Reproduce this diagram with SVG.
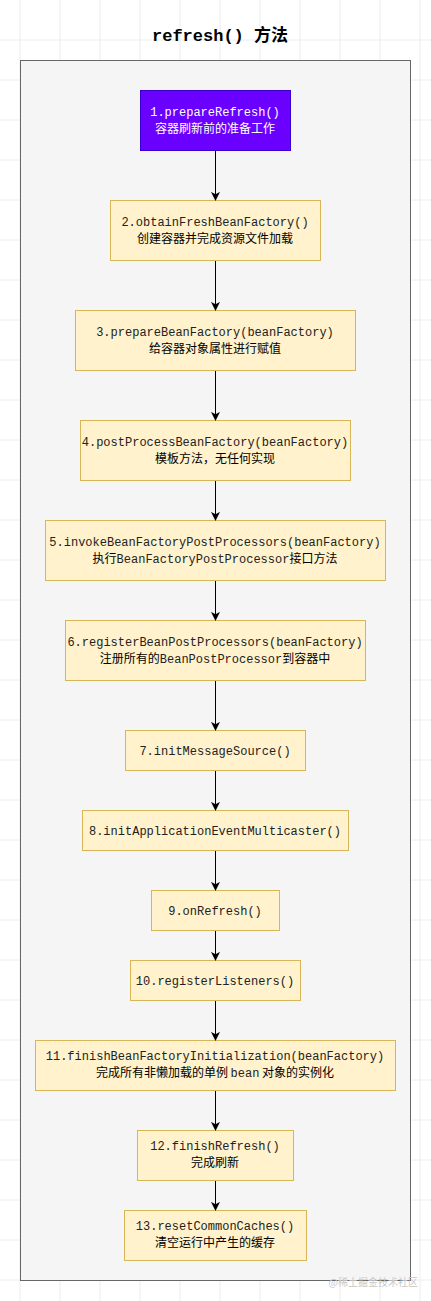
<svg xmlns="http://www.w3.org/2000/svg" width="431" height="1301" viewBox="0 0 431 1301">
<defs>
<style>
.grid line{stroke:#ececec;stroke-width:1}
.box{fill:#fff2cc;stroke:#d6b656;stroke-width:1}
.code{font-family:"Liberation Mono","DejaVu Sans Mono",monospace;font-size:12px;fill:#222}
.zh{font-family:"Noto Sans CJK SC","Liberation Sans",sans-serif;font-size:12px;fill:#000}
.mix{font-family:"Liberation Mono","Noto Sans CJK SC",monospace;font-size:12px;fill:#000}
.conn line{stroke:#000;stroke-width:1;fill:none}
</style>
<marker id="arr" viewBox="0 0 10 10" refX="9" refY="5" markerWidth="9" markerHeight="9" markerUnits="userSpaceOnUse" orient="auto">
<path d="M0,0 L10,5 L0,10 L2.5,5 Z" fill="#000"/>
</marker>
</defs>
<rect x="0" y="0" width="431" height="1301" fill="#ffffff"/>
<g class="grid">
<line x1="20" y1="0" x2="20" y2="1301"/><line x1="60" y1="0" x2="60" y2="1301"/><line x1="100" y1="0" x2="100" y2="1301"/><line x1="140" y1="0" x2="140" y2="1301"/><line x1="180" y1="0" x2="180" y2="1301"/><line x1="220" y1="0" x2="220" y2="1301"/><line x1="260" y1="0" x2="260" y2="1301"/><line x1="300" y1="0" x2="300" y2="1301"/><line x1="340" y1="0" x2="340" y2="1301"/><line x1="380" y1="0" x2="380" y2="1301"/><line x1="420" y1="0" x2="420" y2="1301"/>
<line x1="0" y1="40" x2="431" y2="40"/><line x1="0" y1="80" x2="431" y2="80"/><line x1="0" y1="1280" x2="431" y2="1280"/><line x1="0" y1="120" x2="431" y2="120"/><line x1="0" y1="160" x2="431" y2="160"/><line x1="0" y1="200" x2="431" y2="200"/><line x1="0" y1="240" x2="431" y2="240"/><line x1="0" y1="280" x2="431" y2="280"/><line x1="0" y1="320" x2="431" y2="320"/><line x1="0" y1="360" x2="431" y2="360"/><line x1="0" y1="400" x2="431" y2="400"/><line x1="0" y1="440" x2="431" y2="440"/><line x1="0" y1="480" x2="431" y2="480"/><line x1="0" y1="520" x2="431" y2="520"/><line x1="0" y1="560" x2="431" y2="560"/><line x1="0" y1="600" x2="431" y2="600"/><line x1="0" y1="640" x2="431" y2="640"/><line x1="0" y1="680" x2="431" y2="680"/><line x1="0" y1="720" x2="431" y2="720"/><line x1="0" y1="760" x2="431" y2="760"/><line x1="0" y1="800" x2="431" y2="800"/><line x1="0" y1="840" x2="431" y2="840"/><line x1="0" y1="880" x2="431" y2="880"/><line x1="0" y1="920" x2="431" y2="920"/><line x1="0" y1="960" x2="431" y2="960"/><line x1="0" y1="1000" x2="431" y2="1000"/><line x1="0" y1="1040" x2="431" y2="1040"/><line x1="0" y1="1080" x2="431" y2="1080"/><line x1="0" y1="1120" x2="431" y2="1120"/><line x1="0" y1="1160" x2="431" y2="1160"/><line x1="0" y1="1200" x2="431" y2="1200"/><line x1="0" y1="1240" x2="431" y2="1240"/>
</g>
<g id="title">
<text x="220" y="41" text-anchor="middle" font-size="17" font-weight="bold" fill="#000" xml:space="preserve"><tspan font-family="Liberation Mono, monospace">refresh() </tspan><tspan font-family="Noto Sans CJK SC, sans-serif">方法</tspan></text>
</g>
<g id="container">
<rect x="20.5" y="60.5" width="390" height="1220" fill="#f5f5f5" stroke="#666666" stroke-width="1"/>
</g>
<g id="n1">
<rect x="140.5" y="90.5" width="150" height="60" fill="#6a00ff" stroke="#3700cc"/>
<text x="215" y="116" text-anchor="middle" class="code" style="fill:#ffffff">1.prepareRefresh()</text>
<text x="215" y="132.5" text-anchor="middle" class="zh" style="fill:#ffffff">容器刷新前的准备工作</text>
</g>
<g id="n2">
<rect class="box" x="110.5" y="200.5" width="210" height="60"/>
<text x="215" y="226" text-anchor="middle" class="code">2.obtainFreshBeanFactory()</text>
<text x="215" y="242.5" text-anchor="middle" class="zh">创建容器并完成资源文件加载</text>
</g>
<g id="n3">
<rect class="box" x="75.5" y="310.5" width="280" height="60"/>
<text x="215" y="336" text-anchor="middle" class="code">3.prepareBeanFactory(beanFactory)</text>
<text x="215" y="352.5" text-anchor="middle" class="zh">给容器对象属性进行赋值</text>
</g>
<g id="n4">
<rect class="box" x="80.5" y="420.5" width="270" height="60"/>
<text x="215" y="446" text-anchor="middle" class="code">4.postProcessBeanFactory(beanFactory)</text>
<text x="215" y="462.5" text-anchor="middle" class="zh">模板方法，无任何实现</text>
</g>
<g id="n5">
<rect class="box" x="45.5" y="520.5" width="340" height="60"/>
<text x="215" y="546" text-anchor="middle" class="code">5.invokeBeanFactoryPostProcessors(beanFactory)</text>
<text x="215" y="562.5" text-anchor="middle" class="mix"><tspan font-family="Noto Sans CJK SC, sans-serif">执行</tspan><tspan fill="#222">BeanFactoryPostProcessor</tspan><tspan font-family="Noto Sans CJK SC, sans-serif">接口方法</tspan></text>
</g>
<g id="n6">
<rect class="box" x="65.5" y="620.5" width="300" height="60"/>
<text x="215" y="646" text-anchor="middle" class="code">6.registerBeanPostProcessors(beanFactory)</text>
<text x="215" y="662.5" text-anchor="middle" class="mix"><tspan font-family="Noto Sans CJK SC, sans-serif">注册所有的</tspan><tspan fill="#222">BeanPostProcessor</tspan><tspan font-family="Noto Sans CJK SC, sans-serif">到容器中</tspan></text>
</g>
<g id="n7">
<rect class="box" x="125.5" y="730.5" width="180" height="40"/>
<text x="215" y="754.5" text-anchor="middle" class="code">7.initMessageSource()</text>
</g>
<g id="n8">
<rect class="box" x="82.5" y="810.5" width="266" height="40"/>
<text x="215" y="834.5" text-anchor="middle" class="code">8.initApplicationEventMulticaster()</text>
</g>
<g id="n9">
<rect class="box" x="151.5" y="890.5" width="128" height="40"/>
<text x="215" y="914.5" text-anchor="middle" class="code">9.onRefresh()</text>
</g>
<g id="n10">
<rect class="box" x="130.5" y="960.5" width="170" height="40"/>
<text x="215" y="984.5" text-anchor="middle" class="code">10.registerListeners()</text>
</g>
<g id="n11">
<rect class="box" x="35.5" y="1040.5" width="360" height="50"/>
<text x="215" y="1060" text-anchor="middle" class="code">11.finishBeanFactoryInitialization(beanFactory)</text>
<text x="215" y="1076.5" text-anchor="middle" class="mix" xml:space="preserve"><tspan font-family="Noto Sans CJK SC, sans-serif">完成所有非懒加载的单例 </tspan><tspan fill="#222">bean</tspan><tspan font-family="Noto Sans CJK SC, sans-serif"> 对象的实例化</tspan></text>
</g>
<g id="n12">
<rect class="box" x="137.5" y="1130.5" width="156" height="50"/>
<text x="215" y="1150" text-anchor="middle" class="code">12.finishRefresh()</text>
<text x="215" y="1166.5" text-anchor="middle" class="zh">完成刷新</text>
</g>
<g id="n13">
<rect class="box" x="124.5" y="1210.5" width="182" height="50"/>
<text x="215" y="1230" text-anchor="middle" class="code">13.resetCommonCaches()</text>
<text x="215" y="1246.5" text-anchor="middle" class="zh">清空运行中产生的缓存</text>
</g>
<g class="conn" id="connectors">
<line x1="215.5" y1="151" x2="215.5" y2="200" marker-end="url(#arr)"/>
<line x1="215.5" y1="261" x2="215.5" y2="310" marker-end="url(#arr)"/>
<line x1="215.5" y1="371" x2="215.5" y2="420" marker-end="url(#arr)"/>
<line x1="215.5" y1="481" x2="215.5" y2="520" marker-end="url(#arr)"/>
<line x1="215.5" y1="581" x2="215.5" y2="620" marker-end="url(#arr)"/>
<line x1="215.5" y1="681" x2="215.5" y2="730" marker-end="url(#arr)"/>
<line x1="215.5" y1="771" x2="215.5" y2="810" marker-end="url(#arr)"/>
<line x1="215.5" y1="851" x2="215.5" y2="890" marker-end="url(#arr)"/>
<line x1="215.5" y1="931" x2="215.5" y2="960" marker-end="url(#arr)"/>
<line x1="215.5" y1="1001" x2="215.5" y2="1040" marker-end="url(#arr)"/>
<line x1="215.5" y1="1091" x2="215.5" y2="1130" marker-end="url(#arr)"/>
<line x1="215.5" y1="1181" x2="215.5" y2="1210" marker-end="url(#arr)"/>
</g>
<g id="watermark">
<text x="418" y="1286" text-anchor="end" font-family="Noto Sans CJK SC, sans-serif" font-size="10" fill="#c8c8c8">@稀土掘金技术社区</text>
</g>
</svg>
